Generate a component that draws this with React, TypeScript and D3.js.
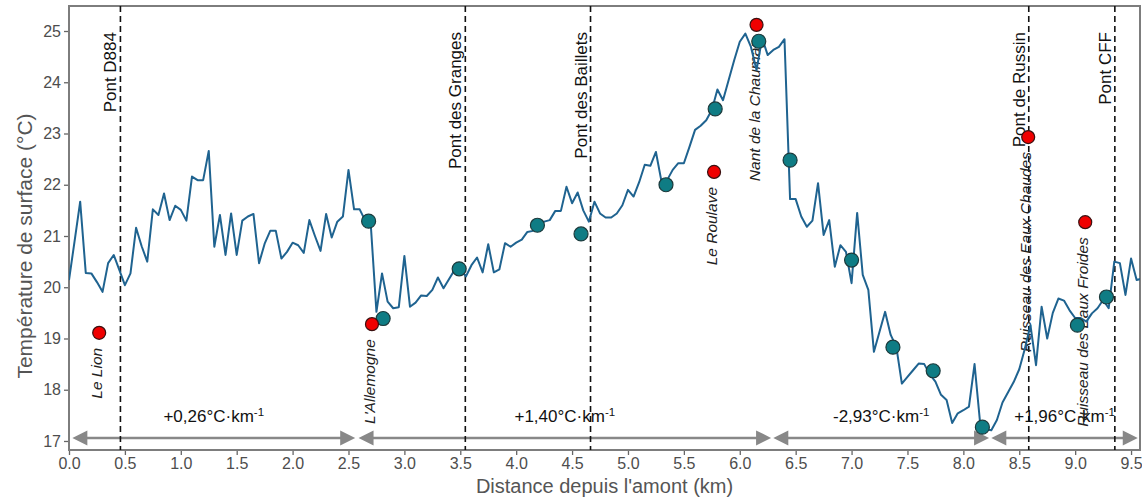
import { useEffect, useRef } from "react";
import * as d3 from "d3";

const W = 1142,
  H = 500;
const margin = { top: 6, right: 2, bottom: 50, left: 69 },
  width = W - margin.left - margin.right,
  height = H - margin.top - margin.bottom;

const font = "'Liberation Sans', Arial, sans-serif";

// surface temperature profile, one value every 50 m from the upstream end
const stepKm = 0.05;
const temperature = [
  20.14, 20.9, 21.67, 20.28, 20.27, 20.1, 19.91, 20.47, 20.63, 20.34,
  20.04, 20.27, 21.16, 20.8, 20.5, 21.52, 21.41, 21.83, 21.31, 21.59,
  21.51, 21.3, 22.16, 22.09, 22.09, 22.66, 20.79, 21.41, 20.63, 21.44,
  20.63, 21.3, 21.38, 21.43, 20.47, 20.85, 21.1, 21.1, 20.56, 20.69,
  20.87, 20.82, 20.67, 21.31, 21.0, 20.71, 21.43, 20.97, 21.28, 21.38,
  22.29, 21.52, 21.52, 21.3, 21.2, 19.52, 20.27, 19.72, 19.59, 19.61,
  20.61, 19.62, 19.7, 19.84, 19.83, 19.95, 20.19, 19.98, 20.16, 20.34,
  20.35, 20.21, 20.43, 20.58, 20.29, 20.84, 20.29, 20.35, 20.86, 20.79,
  20.87, 20.93, 21.08, 21.1, 21.22, 21.28, 21.31, 21.49, 21.49, 21.96,
  21.64, 21.85, 21.5, 21.28, 21.67, 21.44, 21.36, 21.36, 21.44, 21.6,
  21.9, 21.77, 22.05, 22.39, 22.37, 22.64, 22.06, 22.09, 22.29, 22.42,
  22.42, 22.74, 23.07, 23.15, 23.26, 23.46, 23.86, 23.65, 24.04, 24.43,
  24.79, 24.95, 24.69, 24.24, 24.86, 24.53, 24.63, 24.69, 24.84, 21.72,
  21.72, 21.38, 21.18, 21.3, 22.03, 21.02, 21.31, 20.4, 20.82, 20.69,
  20.08, 21.45, 20.24, 19.95, 18.74, 19.13, 19.52, 19.07, 18.84, 18.12,
  18.25, 18.38, 18.51, 18.5, 18.3, 18.16, 17.9, 17.8, 17.35, 17.54,
  17.6, 17.67, 18.5, 17.35, 17.23, 17.21, 17.41, 17.75, 17.95, 18.15,
  18.4, 18.8, 19.26, 18.48, 19.62, 19.0, 19.5, 19.78, 19.74, 19.55,
  19.4, 19.4, 19.33, 19.49, 19.59, 19.75, 19.59, 20.5, 20.47, 19.85,
  20.56, 20.14, 20.17,
];

// in-situ measurements (teal)
const sampleKm = [2.68, 2.81, 3.49, 4.19, 4.58, 5.34, 5.78, 6.17, 6.45, 7.0, 7.37, 7.73, 8.17, 9.02, 9.28];
const sampleTemp = [21.29, 19.39, 20.36, 21.21, 21.04, 22.0, 23.48, 24.8, 22.48, 20.53, 18.83, 18.37, 17.27, 19.26, 19.81];

// tributaries (red)
const tributaryNames = [
  "Le Lion",
  "L'Allemogne",
  "Le Roulave",
  "Nant de la Chaumaz",
  "Ruisseau des Eaux Chaudes",
  "Ruisseau des Eaux Froides",
];
const tributaryKm = [0.27, 2.71, 5.77, 6.15, 8.58, 9.09];
const tributaryTemp = [19.11, 19.28, 22.25, 25.12, 22.93, 21.27];

const bridgeNames = ["Pont D884", "Pont des Granges", "Pont des Baillets", "Pont de Russin", "Pont CFF"];
const bridgeKm = [0.46, 3.545, 4.665, 8.585, 9.355];

const gradientLabels = ["+0,26", "+1,40", "-2,93", "+1,96"];
const gradientStart = [0.03, 2.59, 6.3, 8.25];
const gradientEnd = [2.56, 6.28, 8.23, 9.56];

const xTicks = [0, 0.5, 1, 1.5, 2, 2.5, 3, 3.5, 4, 4.5, 5, 5.5, 6, 6.5, 7, 7.5, 8, 8.5, 9, 9.5];
const yTicks = [17, 18, 19, 20, 21, 22, 23, 24, 25];

function TemperatureProfile() {
  const svgRef = useRef(null);

  const buildSVG = () => {
    const root = d3.select(svgRef.current);
    root.selectAll("*").remove();

    const svg = root
      .attr("width", W)
      .attr("height", H)
      .append("g")
      .attr("transform", "translate(" + margin.left + "," + margin.top + ")");

    const x = d3.scaleLinear().domain([0, 9.58]).range([0, width]);
    const y = d3.scaleLinear().domain([16.824, 25.488]).range([height, 0]);

    root
      .append("defs")
      .append("clipPath")
      .attr("id", "panel")
      .append("rect")
      .attr("width", width)
      .attr("height", height);

    // axes
    const yAxis = d3.axisLeft(y).tickValues(yTicks).tickSize(5).tickPadding(3);
    const gy = svg.append("g").call(yAxis);
    const xAxis = d3
      .axisBottom(x)
      .tickValues(xTicks)
      .tickFormat(d3.format(".1f"))
      .tickSize(5)
      .tickPadding(3);
    const gx = svg.append("g").attr("transform", "translate(0," + height + ")").call(xAxis);
    [gx, gy].forEach((a) => {
      a.select(".domain").remove();
      a.selectAll("line").attr("stroke", "#666").attr("stroke-width", 1.3);
      a.selectAll("text").attr("font-size", 16).attr("font-family", font).attr("fill", "#4d4d4d");
    });

    svg
      .append("rect")
      .attr("width", width)
      .attr("height", height)
      .attr("fill", "none")
      .attr("stroke", "#7d7d7d")
      .attr("stroke-width", 2);

    svg
      .append("text")
      .attr("x", width / 2)
      .attr("y", H - margin.top - 7)
      .attr("text-anchor", "middle")
      .attr("font-family", font)
      .attr("font-size", 20)
      .attr("fill", "#555")
      .text("Distance depuis l'amont (km)");

    svg
      .append("text")
      .attr("transform", "translate(" + (32 - margin.left) + "," + (height / 2 + 18) + ") rotate(-90)")
      .attr("text-anchor", "middle")
      .attr("font-family", font)
      .attr("font-size", 21)
      .attr("fill", "#555")
      .text("Température de surface (°C)");

    const plot = svg.append("g").attr("clip-path", "url(#panel)");

    // gradient arrows
    const arrowY = y(17.06);
    const headL = 15,
      headW = 7.5;
    gradientLabels.forEach((lab, i) => {
      const x0 = x(gradientStart[i]),
        x1 = x(gradientEnd[i]);
      plot
        .append("line")
        .attr("x1", x0 + headL - 1)
        .attr("x2", x1 - headL + 1)
        .attr("y1", arrowY)
        .attr("y2", arrowY)
        .attr("stroke", "#888")
        .attr("stroke-width", 2.5);
      plot
        .append("path")
        .attr(
          "d",
          `M${x0},${arrowY}L${x0 + headL},${arrowY - headW}L${x0 + headL},${arrowY + headW}Z` +
            `M${x1},${arrowY}L${x1 - headL},${arrowY - headW}L${x1 - headL},${arrowY + headW}Z`
        )
        .attr("fill", "#888");
      const t = plot
        .append("text")
        .attr("x", x((gradientStart[i] + gradientEnd[i]) / 2))
        .attr("y", y(17.37))
        .attr("text-anchor", "middle")
        .attr("font-family", font)
        .attr("font-size", 17)
        .attr("fill", "#111");
      t.append("tspan").text(lab + "°C·km");
      t.append("tspan").attr("dy", -6).attr("font-size", 11.5).text("-1");
    });

    // bridges
    plot
      .selectAll(".bridge")
      .data(bridgeKm)
      .enter()
      .append("line")
      .attr("x1", (d) => x(d))
      .attr("x2", (d) => x(d))
      .attr("y1", 0)
      .attr("y2", height)
      .attr("stroke", "#111")
      .attr("stroke-width", 1.6)
      .attr("stroke-dasharray", "6,4");

    bridgeNames.forEach((name, i) => {
      plot
        .append("text")
        .attr("transform", "translate(" + (x(bridgeKm[i]) - 4) + "," + (y(25) + 1) + ") rotate(-90)")
        .attr("text-anchor", "end")
        .attr("font-family", font)
        .attr("font-size", 17)
        .attr("fill", "#111")
        .text(name);
    });

    tributaryNames.forEach((name, i) => {
      plot
        .append("text")
        .attr(
          "transform",
          "translate(" + (x(tributaryKm[i]) + 3) + "," + (y(tributaryTemp[i]) + 15) + ") rotate(-90)"
        )
        .attr("text-anchor", "end")
        .attr("font-family", font)
        .attr("font-style", "italic")
        .attr("font-size", 15.5)
        .attr("fill", "#222")
        .text(name);
    });

    // temperature profile
    const line = d3
      .line<number>()
      .x((d, i) => x(i * stepKm))
      .y((d) => y(d));
    plot
      .append("path")
      .datum(temperature)
      .attr("d", line)
      .attr("fill", "none")
      .attr("stroke", "#1f6390")
      .attr("stroke-width", 2)
      .attr("stroke-linejoin", "round");

    plot
      .selectAll(".sample")
      .data(sampleKm)
      .enter()
      .append("circle")
      .attr("cx", (d) => x(d))
      .attr("cy", (d, i) => y(sampleTemp[i]))
      .attr("r", 7)
      .attr("fill", "#0f7c84")
      .attr("stroke", "#1c3a3c")
      .attr("stroke-width", 1.2);

    plot
      .selectAll(".trib")
      .data(tributaryKm)
      .enter()
      .append("circle")
      .attr("cx", (d) => x(d))
      .attr("cy", (d, i) => y(tributaryTemp[i]))
      .attr("r", 6.5)
      .attr("fill", "#f00000")
      .attr("stroke", "#3a1010")
      .attr("stroke-width", 1.2);
  };

  useEffect(buildSVG, []);

  return (
    <div style={{ position: "absolute", left: 0, top: 0 }}>
      <svg ref={svgRef} style={{ display: "block" }}></svg>
    </div>
  );
}

export default function App() {
  return <TemperatureProfile />;
}
